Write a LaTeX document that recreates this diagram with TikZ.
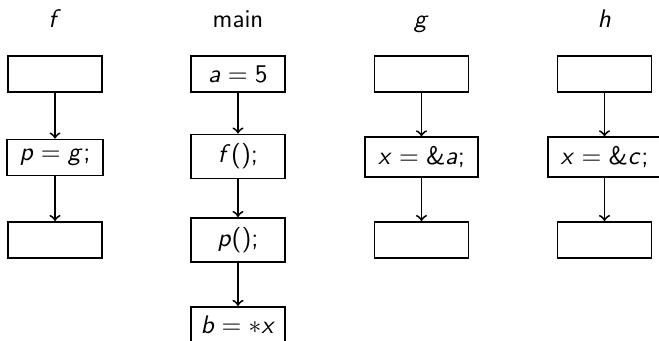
\documentclass[tikz,border=0pt]{standalone}
% sans serif maths, as on slides
\DeclareSymbolFont{operators}{OT1}{cmss}{m}{n}
\DeclareSymbolFont{letters}{OT1}{cmss}{m}{sl}
\tikzset{
  blk/.style={draw, thick, minimum width=40.4pt, minimum height=15.5pt, inner xsep=5.5pt, inner ysep=4pt},
  flow/.style={->, thick},
  ttl/.style={anchor=base}
}

\begin{document}
\begin{tikzpicture}[x=0.43pt, y=-0.43pt, every node/.style={font=\fontsize{11}{13}\selectfont\sffamily}]
        \useasboundingbox (0,0) rectangle (659,341);
        % Titles
        \node[ttl] (tf) at (55,27) {$f$};
        \node[ttl] (tmain) at (238,27) {main};
        \node[ttl] (tg) at (421.5,27) {$g$};
        \node[ttl] (th) at (604.5,27) {$h$};

        % f
        \node[blk] (f1) at (55,74) {};
        \node[blk] (f2) at (55,157.5) {$p = g;$};
        \node[blk] (f3) at (55,240) {};

        % main
        \node[blk] (m1) at (238,74) {$a = 5$};
        \node[blk] (m2) at (238,156.5) {$f();$};
        \node[blk] (m3) at (238,240) {$p();$};
        \node[blk, inner xsep=4pt] (m4) at (238,325) {$b = *x$};

        % g
        \node[blk] (g1) at (421.5,74) {};
        \node[blk] (g2) at (421.5,157) {$x = \&a;$};
        \node[blk] (g3) at (421.5,240) {};

        % h
        \node[blk] (h1) at (604.5,74) {};
        \node[blk] (h2) at (604.5,157) {$x = \&c;$};
        \node[blk] (h3) at (604.5,240) {};

        % Arrows
        \draw[flow] (f1) -- (f2);
        \draw[flow] (f2) -- (f3);
        \draw[flow] (m1) -- (m2);
        \draw[flow] (m2) -- (m3);
        \draw[flow] (m3) -- (m4);
        \draw[flow] (g1) -- (g2);
        \draw[flow] (g2) -- (g3);
        \draw[flow] (h1) -- (h2);
        \draw[flow] (h2) -- (h3);
    \end{tikzpicture}
\end{document}
